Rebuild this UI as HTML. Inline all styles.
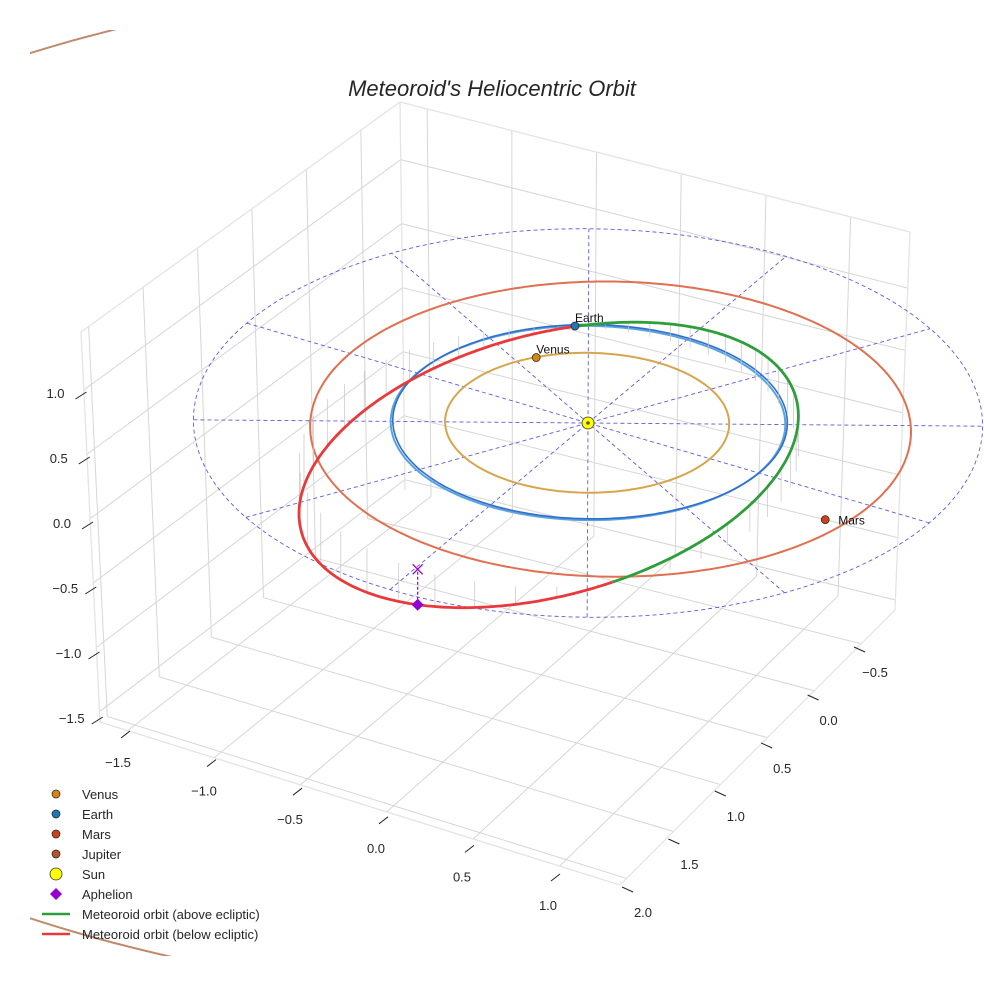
<!DOCTYPE html>
<html><head><meta charset="utf-8"><style>
html,body{margin:0;padding:0;background:#fff}
svg{display:block;font-family:"Liberation Sans",sans-serif}
</style></head><body>
<svg id="chart" width="984" height="984" viewBox="0 0 984 984" xmlns="http://www.w3.org/2000/svg">
<defs><clipPath id="axclip"><rect x="30" y="30" width="930" height="926"/></clipPath></defs>
<rect width="984" height="984" fill="#fff"/>
<text x="492" y="96" text-anchor="middle" font-size="22" font-style="italic" fill="#262626">Meteoroid's Heliocentric Orbit</text>
<g id="grid"></g>
<g id="ticks"></g>
<g id="plot"></g>
<g id="legend"></g>
</svg>
<script>
// ---- data ----
const xTicks = [-1.5, -1.0, -0.5, 0.0, 0.5, 1.0];
const yTicks = [-0.5, 0.0, 0.5, 1.0, 1.5, 2.0];
const zTicks = [-1.5, -1.0, -0.5, 0.0, 0.5, 1.0];
const planetNames = ["Venus", "Earth", "Mars"];
const planetRadius = [0.72, 1.0, 1.55];
const planetAngleDeg = [-139.5, -121.9, 11];
const jupiterRadius = 5.2;
const meteorA = 1.36;
const meteorE = 0.3;
const meteorIncDeg = 15.6;
const meteorNodeDeg = 57.5;
const meteorAphelionArgDeg = 35;
const refCircleR = [2.0, 1.0];
const refSpokeDeg = [2, 32, 62, 92, 122, 152];

// ---- projection ----
const XMIN=-1.66,XMAX=1.35,YMIN=-0.86,YMAX=2.07,ZMIN=-1.58,ZMAX=1.45;
function P(x,y,z){return [588+174*x-93*y, 423+47*x+85*y-130*z];}
function PP(x,y,z){const k=1/(1-0.025*(0.47*x+0.88*y));return [588+k*(174*x-93*y), 423+k*(47*x+85*y-130*z)];}
// box corners in screen space (perspective box), indexed [xi][yi][zi]
const C={"000":[405,490],"010":[100,722],"100":[895,610],"110":[620,885],"001":[400,102],"011":[81,332],"101":[910,232],"111":[615,500]};
function G(x,y,z){const u=(x-XMIN)/(XMAX-XMIN),v=(y-YMIN)/(YMAX-YMIN),w=(z-ZMIN)/(ZMAX-ZMIN);let X=0,Y=0;
  for(const i of [0,1])for(const j of [0,1])for(const k of [0,1]){const f=(i?u:1-u)*(j?v:1-v)*(k?w:1-w);const c=C[""+i+j+k];X+=f*c[0];Y+=f*c[1];}
  return [X,Y];}
const NS="http://www.w3.org/2000/svg";
function el(tag,attrs,parent){const e=document.createElementNS(NS,tag);for(const k in attrs)e.setAttribute(k,attrs[k]);parent.appendChild(e);return e;}
function pathD(pts){return pts.map((p,i)=>(i?"L":"M")+p[0].toFixed(1)+" "+p[1].toFixed(1)).join(" ");}
function line3(a,b,attrs,parent){const p=P(...a),q=P(...b);return el("line",Object.assign({x1:p[0],y1:p[1],x2:q[0],y2:q[1]},attrs),parent);}
function gline(a,b,attrs,parent){const p=G(...a),q=G(...b);return el("line",Object.assign({x1:p[0],y1:p[1],x2:q[0],y2:q[1]},attrs),parent);}
const grid=document.getElementById("grid"),ticks=document.getElementById("ticks"),plot=document.getElementById("plot"),legend=document.getElementById("legend");
const gs={stroke:"#d6d6d6","stroke-width":1,fill:"none"};

// ---- grid panes ----
xTicks.forEach(x=>{
  let a=gline([x,YMIN,ZMIN],[x,YMAX,ZMIN],gs,grid);
  
  
  let b=gline([x,YMIN,ZMIN],[x,YMIN,ZMAX],gs,grid);
  
  
});
yTicks.forEach(y=>{
  let a=gline([XMIN,y,ZMIN],[XMAX,y,ZMIN],gs,grid);
  
  
  let b=gline([XMIN,y,ZMIN],[XMIN,y,ZMAX],gs,grid);
  
  
});
zTicks.forEach(z=>{
  let a=gline([XMIN,YMIN,z],[XMIN,YMAX,z],gs,grid);
  
  
  let b=gline([XMIN,YMIN,z],[XMAX,YMIN,z],gs,grid);
  
  
});
const es={stroke:"#e4e4e4","stroke-width":1.3,fill:"none"};
[[[XMIN,YMAX,ZMIN],[XMAX,YMAX,ZMIN]],[[XMAX,YMIN,ZMIN],[XMAX,YMAX,ZMIN]],[[XMIN,YMAX,ZMIN],[XMIN,YMAX,ZMAX]],[[XMAX,YMIN,ZMIN],[XMAX,YMIN,ZMAX]],[[XMIN,YMIN,ZMAX],[XMIN,YMAX,ZMAX]],[[XMIN,YMIN,ZMAX],[XMAX,YMIN,ZMAX]],[[XMIN,YMIN,ZMIN],[XMIN,YMIN,ZMAX]]].forEach(s=>{
  let e=gline(s[0],s[1],es,grid);
  
  
});

// ---- tick labels ----
function xLab(x){return [118+(x+1.5)*172, 762+(x+1.5)*57.2];}
function yLab(y){return [875+(y+0.5)*(-92.8), 672+(y+0.5)*96];}
function zLab(z){return [62-6.5*z, 523-130*z];}
function fmt(v){return (v<0?"\u2212":"")+Math.abs(v).toFixed(1);}
xTicks.forEach(x=>{
  const p=xLab(x);
  let t=el("text",{x:p[0],y:p[1]+5,"text-anchor":"middle","font-size":13,fill:"#262626"},ticks);t.textContent=fmt(x);
  
  
  let m=el("line",{x1:p[0]+3,y1:p[1]-24,x2:p[0]+12,y2:p[1]-31,stroke:"#222","stroke-width":1},ticks);
  
  
});
yTicks.forEach(y=>{
  const p=yLab(y);
  let t=el("text",{x:p[0],y:p[1]+5,"text-anchor":"middle","font-size":13,fill:"#262626"},ticks);t.textContent=fmt(y);
  
  
  let m=el("line",{x1:p[0]-21,y1:p[1]-25,x2:p[0]-10,y2:p[1]-20,stroke:"#222","stroke-width":1},ticks);
  
  
});
zTicks.forEach(z=>{
  const p=zLab(z);
  let t=el("text",{x:p[0],y:p[1]+5,"text-anchor":"middle","font-size":13,fill:"#262626"},ticks);t.textContent=fmt(z);
  
  
  let m=el("line",{x1:p[0]+20,y1:p[1]+6,x2:p[0]+31,y2:p[1]-1,stroke:"#222","stroke-width":1},ticks);
  
  
});

// ---- orbits ----
function conic(a,e,periDeg,n,proj){proj=proj||P;const pts=[];const p=a*(1-e*e);for(let k=0;k<=n;k++){const th=k/n*2*Math.PI;const r=p/(1+e*Math.cos(th-periDeg*Math.PI/180));pts.push(proj(r*Math.cos(th),r*Math.sin(th),0));}return pts;}
let jg=el("g",{"clip-path":"url(#axclip)"},plot);


let jo=el("path",{d:pathD(conic(jupiterRadius,0,0,360,PP)),stroke:"#c08a6c","stroke-width":2,fill:"none"},jg);


refCircleR.forEach(r=>{
  let c=el("path",{d:pathD(conic(r,0,0,240)),stroke:"#5b5be0","stroke-width":0.9,"stroke-dasharray":"4 3",fill:"none"},plot);
  
  
});
refSpokeDeg.forEach(d=>{
  const t=d*Math.PI/180,R=refCircleR[0];
  let s=line3([R*Math.cos(t),R*Math.sin(t),0],[-R*Math.cos(t),-R*Math.sin(t),0],{stroke:"#5b5be0","stroke-width":0.9,"stroke-dasharray":"4 3"},plot);
  
  
});
let vo=el("path",{d:pathD(conic(0.72,0.007,0,240)),stroke:"#d6a64c","stroke-width":2,fill:"none"},plot);


let eo2=el("path",{d:pathD(conic(1.0,0.0,0,240)),stroke:"#5aa3dd","stroke-width":2,fill:"none"},plot);


let eo=el("path",{d:pathD(conic(1.0,0.017,100,240)),stroke:"#2f6fcc","stroke-width":1.6,fill:"none"},plot);


let mo=el("path",{d:pathD(conic(1.524,0.085,180,300)),stroke:"#e07050","stroke-width":2,fill:"none"},plot);



// ---- meteoroid ----
const Om=meteorNodeDeg*Math.PI/180,inc=meteorIncDeg*Math.PI/180,uPeri=(meteorAphelionArgDeg+180)*Math.PI/180;
const pm=meteorA*(1-meteorE*meteorE);
function met(u){const r=pm/(1+meteorE*Math.cos(u-uPeri));const c=Math.cos(u),s=Math.sin(u);
  return [r*(c*Math.cos(Om)-s*Math.sin(Om)*Math.cos(inc)), r*(c*Math.sin(Om)+s*Math.cos(Om)*Math.cos(inc)), -r*s*Math.sin(inc)];}
for(let k=0;k<50;k++){const u=k/50*2*Math.PI+0.05;const q=met(u);
  let d=line3(q,[q[0],q[1],0],{stroke:"#c4c4c4","stroke-width":0.7},plot);
  
  
}
const below=[],above=[];
for(let k=0;k<=180;k++)below.push(P(...met(k*Math.PI/180)));
for(let k=180;k<=360;k++)above.push(P(...met(k*Math.PI/180)));
let rb=el("path",{d:pathD(below),stroke:"#e83a3a","stroke-width":2.8,fill:"none"},plot);


let ga=el("path",{d:pathD(above),stroke:"#2e9e3a","stroke-width":2.8,fill:"none"},plot);


const ap=met(meteorAphelionArgDeg*Math.PI/180);
const apS=P(...ap),apG=P(ap[0],ap[1],0);
let al=el("line",{x1:apS[0],y1:apS[1],x2:apG[0],y2:apG[1],stroke:"#9400d3","stroke-width":1.2,"stroke-dasharray":"3 2"},plot);


let ax=el("path",{d:`M${apG[0]-5} ${apG[1]-5}L${apG[0]+5} ${apG[1]+5}M${apG[0]-5} ${apG[1]+5}L${apG[0]+5} ${apG[1]-5}`,stroke:"#9400d3","stroke-width":1.3},plot);


let ad=el("path",{d:`M${apS[0]} ${apS[1]-6}L${apS[0]+6} ${apS[1]}L${apS[0]} ${apS[1]+6}L${apS[0]-6} ${apS[1]}Z`,fill:"#9400d3"},plot);



// ---- planets ----
const pColors=["#d4860f","#1f77b4","#c8441a"];
planetNames.forEach((nm,i)=>{
  const t=planetAngleDeg[i]*Math.PI/180,r=planetRadius[i];
  const p=P(r*Math.cos(t),r*Math.sin(t),0);
  let c=el("circle",{cx:p[0],cy:p[1],r:4,fill:pColors[i],stroke:"#222","stroke-width":0.7},plot);
  
  
  const off=nm==="Mars"?[13,5]:[0,-4];
  let tx=el("text",{x:p[0]+off[0],y:p[1]+off[1],"font-size":12,fill:"#111"},plot);tx.textContent=nm;
  
  
});
const sp=P(0,0,0);
let sun=el("circle",{cx:sp[0],cy:sp[1],r:6,fill:"#ffff00",stroke:"#333","stroke-width":0.8},plot);


let sc=el("circle",{cx:sp[0],cy:sp[1],r:1.8,fill:"#555"},plot);



// ---- legend ----
const legLabels=["Venus","Earth","Mars","Jupiter","Sun","Aphelion","Meteoroid orbit (above ecliptic)","Meteoroid orbit (below ecliptic)"];
legLabels.forEach((lab,i)=>{
  const y=794+i*20,x=56;
  let m;
  if(i<4){m=el("circle",{cx:x,cy:y,r:4,fill:["#d4860f","#1f77b4","#c8441a","#b0562a"][i],stroke:"#222","stroke-width":0.7},legend);}
  else if(i===4){m=el("circle",{cx:x,cy:y,r:6,fill:"#ffff00",stroke:"#333","stroke-width":0.8},legend);}
  else if(i===5){m=el("path",{d:`M${x} ${y-6}L${x+6} ${y}L${x} ${y+6}L${x-6} ${y}Z`,fill:"#9400d3"},legend);}
  else {m=el("line",{x1:42,y1:y,x2:70,y2:y,stroke:i===6?"#2e9e3a":"#e83a3a","stroke-width":2.5},legend);}
  
  
  let t=el("text",{x:82,y:y+5,"font-size":13,fill:"#262626"},legend);t.textContent=lab;
  
  
});
</script>
</body></html>
